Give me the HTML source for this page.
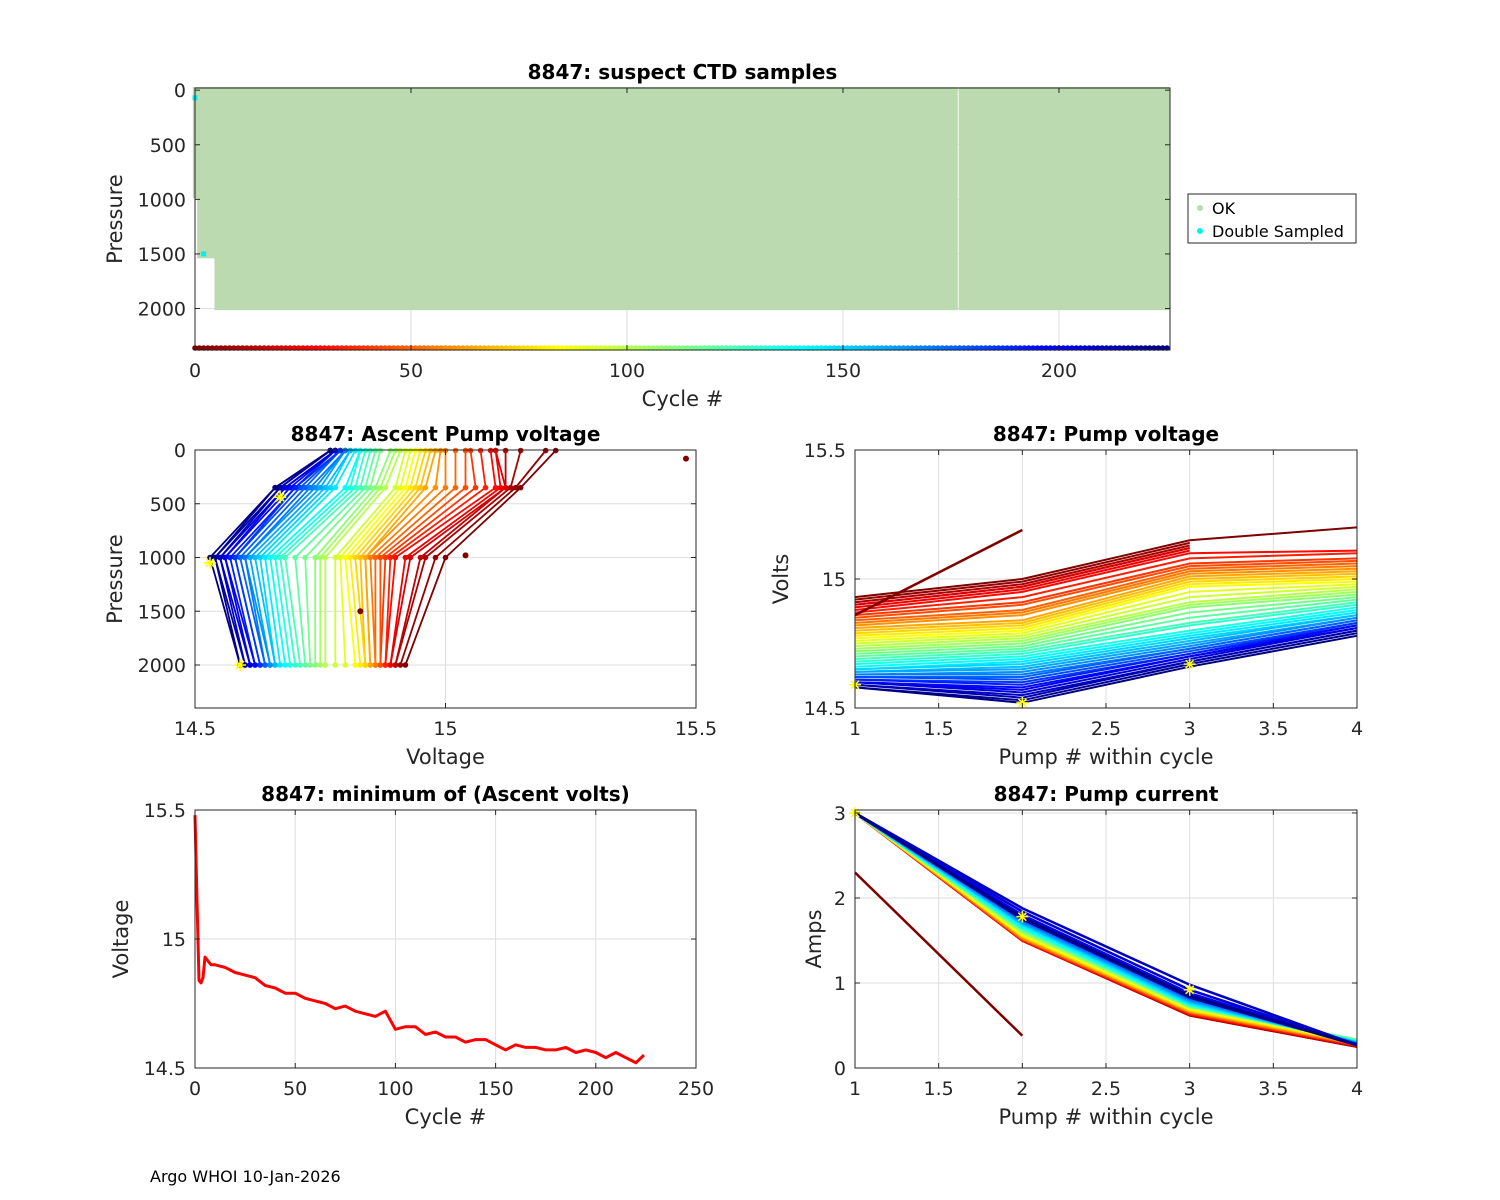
<!DOCTYPE html>
<html><head><meta charset="utf-8"><title>8847 pump diagnostics</title>
<style>
html,body{margin:0;padding:0;background:#fff;}
svg{display:block;font-family:"DejaVu Sans","Liberation Sans",sans-serif;}
</style></head>
<body>
<svg id="fig" width="1500" height="1200" viewBox="0 0 1500 1200" xmlns="http://www.w3.org/2000/svg">
<rect width="1500" height="1200" fill="#fff"/>
<text x="150" y="1182" font-size="16" fill="#000">Argo WHOI 10-Jan-2026</text>
<g>
<rect x="1188" y="194" width="168" height="49" fill="#fff" stroke="#262626" stroke-width="1"/>
<circle cx="1200" cy="208" r="3" fill="#bcdab0"/>
<text x="1212" y="214" font-size="16" fill="#000">OK</text>
<circle cx="1200" cy="231" r="3" fill="#00f0f0"/>
<text x="1212" y="237" font-size="16" fill="#000">Double Sampled</text>
</g>
</svg>
<script>
// ---------- data ----------
// top panel: profile depth segments
const segStart = [0, 1, 5, 177];
const segEnd = [0, 4, 176, 225];
const segMaxP = [990, 1540, 2015, 2015];
const missingAfter = [176];
const dblCycle = [0, 2];
const dblPres = [70, 1500];
const lastCycle = 225;

// ascent pump voltage profiles (grouped cycles)
const grpCycles = [0,5,10,15,20,25,30,35,40,45,50,55,60,65,70,75,80,85,90,95,100,105,110,115,120,125,130,135,140,145,150,155,160,165,170,175,180,185,190,195,200,205,210,215,220,225];
const profPres = [5, 350, 1000, 2000];
const vTop = [15.22,15.20,15.15,15.12,15.10,15.10, 15.09,15.07,15.05,15.04,15.02,15.00,14.99,14.98,14.97,14.96,14.95, 14.94,14.93,14.92,14.91,14.90,14.89, 14.87,14.86,14.85,14.84,14.83,14.83, 14.82,14.81,14.81,14.80,14.80,14.80,14.79,14.79,14.79,14.78,14.78,14.78,14.78,14.77,14.77,14.77,14.77];
const v350 = [15.15,15.14,15.13,15.12,15.12,15.11, 15.10,15.08,15.06,15.04,15.02,15.00,14.98,14.96,14.95,14.94,14.93, 14.92,14.91,14.90,14.88,14.87,14.86, 14.85,14.84,14.83,14.82,14.81,14.80, 14.78,14.77,14.76,14.75,14.74,14.73,14.72,14.71,14.70,14.70,14.69,14.68,14.68,14.67,14.67,14.66,14.66];
const v1000 = [15.00,14.98,14.96,14.95,14.93,14.92, 14.90,14.89,14.88,14.87,14.86,14.85,14.84,14.84,14.83,14.82,14.81, 14.80,14.79,14.78,14.76,14.75,14.74, 14.72,14.70,14.68,14.67,14.66,14.65, 14.64,14.63,14.62,14.61,14.60,14.60,14.59,14.58,14.58,14.57,14.56,14.56,14.55,14.55,14.54,14.54,14.53];
const v2000 = [14.92,14.91,14.90,14.90,14.89,14.89, 14.88,14.88,14.87,14.87,14.86,14.86,14.85,14.85,14.84,14.84,14.83, 14.82,14.80,14.78,14.76,14.75,14.74, 14.73,14.72,14.71,14.70,14.69,14.68, 14.67,14.66,14.66,14.65,14.65,14.64,14.64,14.63,14.63,14.62,14.62,14.61,14.61,14.60,14.60,14.59,14.59];
const outV = [15.48, 15.04, 14.83];
const outP = [80, 980, 1500];

// pump voltage per pump #
const pumpNum = [1,2,3,4];
const pv1 = [14.93,14.92,14.91,14.90,14.90,14.89, 14.88,14.87,14.86,14.85,14.84,14.83,14.82,14.81,14.80,14.79,14.78, 14.77,14.76,14.75,14.74,14.73,14.72, 14.71,14.70,14.69,14.68,14.67,14.66, 14.65,14.65,14.64,14.64,14.63,14.63,14.62,14.62,14.61,14.61,14.60,14.60,14.60,14.59,14.59,14.58,14.58];
const pv2 = [15.00,14.99,14.98,14.97,14.97,14.96, 14.95,14.93,14.91,14.90,14.88,14.87,14.86,14.84,14.83,14.82,14.81, 14.80,14.79,14.78,14.77,14.76,14.75, 14.74,14.73,14.72,14.71,14.70,14.69, 14.68,14.67,14.66,14.65,14.64,14.63,14.62,14.61,14.60,14.59,14.58,14.57,14.56,14.55,14.54,14.53,14.52];
const pv3 = [15.15,15.14,15.13,15.12,15.12,15.11, 15.10,15.08,15.06,15.05,15.04,15.03,15.02,15.01,15.00,14.99,14.98, 14.97,14.95,14.93,14.91,14.90,14.89, 14.87,14.85,14.83,14.82,14.80,14.79, 14.78,14.77,14.76,14.75,14.74,14.73,14.73,14.72,14.71,14.71,14.70,14.70,14.69,14.68,14.68,14.67,14.66];
const pv4 = [15.20,null,null,null,null,null, 15.11,15.10,15.08,15.07,15.06,15.05,15.04,15.03,15.02,15.01,15.00, 14.99,14.98,14.97,14.96,14.95,14.94, 14.93,14.92,14.91,14.90,14.89,14.88, 14.87,14.86,14.86,14.85,14.85,14.84,14.84,14.83,14.83,14.82,14.82,14.81,14.81,14.80,14.80,14.79,14.78];
const pvOdd = [14.86, 15.19];

// pump current per pump #
const pc1 = [3.0,3.0,3.0,3.0,3.0,3.0,3.0,3.0,3.0,3.0,3.0,3.0,3.0,3.0,3.0,3.0,3.0,3.0,3.0,3.0,3.0,3.0,3.0,3.0,3.0,3.0,3.0,3.0,3.0,3.0,3.0,3.0,3.0,3.0,3.0,3.0,3.0,3.0,3.0,3.0,3.0,3.0,3.0,3.0,3.0,3.0];
const pc2 = [1.50,1.50,1.50,1.50,1.50,1.50, 1.50,1.51,1.51,1.52,1.52,1.53,1.53,1.54,1.55,1.55,1.56, 1.57,1.58,1.59,1.60,1.60,1.61, 1.62,1.63,1.64,1.65,1.65,1.66, 1.68,1.69,1.70,1.71,1.72,1.73,1.74,1.75,1.76,1.77,1.78,1.80,1.84,1.88,1.76,1.75,1.77];
const pc3 = [0.62,0.62,0.62,0.63,0.63,0.63, 0.64,0.64,0.65,0.65,0.66,0.66,0.67,0.67,0.68,0.68,0.69, 0.70,0.70,0.71,0.71,0.72,0.72, 0.73,0.73,0.74,0.74,0.75,0.75, 0.76,0.77,0.78,0.79,0.80,0.81,0.82,0.83,0.84,0.85,0.86,0.88,0.92,0.98,0.84,0.83,0.85];
const pc4 = [0.25,0.25,0.25,0.26,0.26,0.26, 0.27,0.27,0.27,0.28,0.28,0.28,0.29,0.29,0.30,0.30,0.31, 0.31,0.32,0.32,0.33,0.33,0.33, 0.33,0.32,0.32,0.31,0.31,0.31, 0.30,0.30,0.30,0.29,0.29,0.29,0.28,0.28,0.28,0.28,0.27,0.27,0.27,0.27,0.27,0.27,0.27];
const pcOdd = [2.30, 0.38];

// minimum ascent volts
const mvC = [0,1,2,3,4,5,8,10,15,20,25,30,35,40,45,50,55,60,65,70,75,80,85,90,95,100,105,110,115,120,125,130,135,140,145,150,155,160,165,170,175,180,185,190,195,200,205,210,215,220,224];
const mvV = [15.48,15.15,14.84,14.83,14.85,14.93,14.90,14.90,14.89,14.87,14.86,14.85,14.82,14.81,14.79,14.79,14.77,14.76,14.75,14.73,14.74,14.72,14.71,14.70,14.72,14.65,14.66,14.66,14.63,14.64,14.62,14.62,14.60,14.61,14.61,14.59,14.57,14.59,14.58,14.58,14.57,14.57,14.58,14.56,14.57,14.56,14.54,14.56,14.54,14.52,14.55];

// tick labels
const topXTicks = [0,50,100,150,200];
const topYTicks = [0,500,1000,1500,2000];
const mlXTicks = [14.5,15,15.5];
const mlYTicks = [0,500,1000,1500,2000];
const pumpTicks = [1,1.5,2,2.5,3,3.5,4];
const voltTicks = [14.5,15,15.5];
const cycTicks = [0,50,100,150,200,250];
const ampTicks = [0,1,2,3];

// ---------- drawing ----------
const NS = "http://www.w3.org/2000/svg";
const svg = document.getElementById('fig');
function mk(tag, attrs, parent) {
  const e = document.createElementNS(NS, tag);
  for (const k in attrs) e.setAttribute(k, attrs[k]);
  (parent || svg).appendChild(e);
  return e;
}
function jet(c) {
  const t = 1 - c / lastCycle;
  const cl = v => Math.max(0, Math.min(1, v));
  const r = cl(1.5 - Math.abs(4 * t - 3)), g = cl(1.5 - Math.abs(4 * t - 2)), b = cl(1.5 - Math.abs(4 * t - 1));
  return `rgb(${Math.round(r*255)},${Math.round(g*255)},${Math.round(b*255)})`;
}
function axis(p) {
  p.sx = v => p.x0 + (v - p.xmin) / (p.xmax - p.xmin) * (p.x1 - p.x0);
  p.sy = v => p.y1 - (v - p.ymin) / (p.ymax - p.ymin) * (p.y1 - p.y0);
  if (p.rev) p.sy = v => p.y0 + (v - p.ymin) / (p.ymax - p.ymin) * (p.y1 - p.y0);
  const g = mk('g', {});
  
  
  p.g = g;
  p.grid = mk('g', {}, g);
  
  
  p.marks = mk('g', {}, g);
  
  
  p.frame = mk('g', {}, g);
  
  
  return p;
}
function finish(p) {
  const f = p.frame;
  p.xt.forEach(v => {
    const x = p.sx(v);
    const gl = mk('line', {x1:x, x2:x, y1:p.y0, y2:p.y1, stroke:'#dedede', 'stroke-width':1}, p.grid);
    
    
    const tk = mk('line', {x1:x, x2:x, y1:p.y1, y2:p.y1-5, stroke:'#262626'}, f);
    
    
    const tk2 = mk('line', {x1:x, x2:x, y1:p.y0, y2:p.y0+5, stroke:'#262626'}, f);
    
    
    const t = mk('text', {x:x, y:p.y1+27, 'font-size':19, 'text-anchor':'middle', fill:'#262626'}, f);
    t.textContent = String(v);
    
    
  });
  p.yt.forEach(v => {
    const y = p.sy(v);
    const gl = mk('line', {x1:p.x0, x2:p.x1, y1:y, y2:y, stroke:'#dedede', 'stroke-width':1}, p.grid);
    
    
    const tk = mk('line', {x1:p.x0, x2:p.x0+5, y1:y, y2:y, stroke:'#262626'}, f);
    
    
    const tk2 = mk('line', {x1:p.x1, x2:p.x1-5, y1:y, y2:y, stroke:'#262626'}, f);
    
    
    const t = mk('text', {x:p.x0-9, y:y+7, 'font-size':19, 'text-anchor':'end', fill:'#262626'}, f);
    t.textContent = String(v);
    
    
  });
  const box = mk('rect', {x:p.x0, y:p.y0, width:p.x1-p.x0, height:p.y1-p.y0, fill:'none', stroke:'#262626', 'stroke-width':1}, f);
  
  
  const ti = mk('text', {x:(p.x0+p.x1)/2, y:p.y0-9, 'font-size':20, 'font-weight':'bold', 'text-anchor':'middle', fill:'#000'}, f);
  ti.textContent = p.title;
  
  
  const xl = mk('text', {x:(p.x0+p.x1)/2, y:p.y1+56, 'font-size':21, 'text-anchor':'middle', fill:'#262626'}, f);
  xl.textContent = p.xlabel;
  
  
  const yl = mk('text', {x:0, y:0, 'font-size':21, 'text-anchor':'middle', fill:'#262626', transform:`translate(${p.ylx},${(p.y0+p.y1)/2}) rotate(-90)`}, f);
  yl.textContent = p.ylabel;
  
  
}
function star(p, x, y) {
  const X = p.sx(x), Y = p.sy(y), r = 6;
  const s = mk('path', {d:`M${X-r},${Y}H${X+r}M${X},${Y-r}V${Y+r}M${X-4},${Y-4}L${X+4},${Y+4}M${X-4},${Y+4}L${X+4},${Y-4}`, stroke:'#ffff00', 'stroke-width':1.5, fill:'none'}, p.marks);
  
  
}
function linePts(p, xs, ys) {
  const out = [];
  xs.forEach((x, k) => { if (ys[k] !== null) out.push(p.sx(x).toFixed(1) + ',' + p.sy(ys[k]).toFixed(1)); });
  return out.join(' ');
}

// ---- top panel ----
const A = axis({name:'suspect-ctd-panel', x0:195, x1:1170, y0:88, y1:350, xmin:0, xmax:225.7, ymin:-20, ymax:2380, rev:true,
  xt:topXTicks, yt:topYTicks, title:'8847: suspect CTD samples', xlabel:'Cycle #', ylabel:'Pressure', ylx:122});
segStart.forEach((s, i) => {
  const xa = Math.max(A.sx(s - 0.5), 192) + (missingAfter.indexOf(s - 1) >= 0 ? 1.2 : 0);
  const xb = A.sx(segEnd[i] + 0.5) + 0.3;
  const r = mk('rect', {x:xa, y:87, width:xb - xa, height:A.sy(segMaxP[i]) - 87, fill:'#bcdab0'}, A.marks);
  
  
});
for (let c = 0; c <= lastCycle; c++) {
  const d = mk('circle', {cx:A.sx(c), cy:348, r:2.8, fill:jet(c)}, A.marks);
  
  
}
dblCycle.forEach((c, i) => {
  const d = mk('rect', {x:A.sx(c)-2.5, y:A.sy(dblPres[i])-2.5, width:5, height:5, fill:'#00f0f0'}, A.marks);
  
  
});
finish(A);

// ---- ascent pump voltage ----
const B = axis({name:'ascent-pump-voltage-panel', x0:195, x1:696, y0:450, y1:708, xmin:14.5, xmax:15.5, ymin:0, ymax:2400, rev:true,
  xt:mlXTicks, yt:mlYTicks, title:'8847: Ascent Pump voltage', xlabel:'Voltage', ylabel:'Pressure', ylx:122});
grpCycles.forEach((c, i) => {
  const vs = [vTop[i], v350[i], v1000[i], v2000[i]];
  const pts = vs.map((v, k) => B.sx(v).toFixed(1) + ',' + B.sy(profPres[k]).toFixed(1)).join(' ');
  const l = mk('polyline', {points:pts, fill:'none', stroke:jet(c), 'stroke-width':1.8}, B.marks);
  
  
  vs.forEach((v, k) => {
    const d = mk('circle', {cx:B.sx(v), cy:B.sy(profPres[k]), r:2.8, fill:jet(c)}, B.marks);
    
    
  });
});
outV.forEach((v, i) => {
  const d = mk('circle', {cx:B.sx(v), cy:B.sy(outP[i]), r:3, fill:'#800000'}, B.marks);
  
  
});
star(B, 14.67, 440); star(B, 14.53, 1050); star(B, 14.59, 2000);
finish(B);

// ---- pump voltage ----
const C = axis({name:'pump-voltage-panel', x0:855, x1:1357, y0:450, y1:708, xmin:1, xmax:4, ymin:14.5, ymax:15.5,
  xt:pumpTicks, yt:voltTicks, title:'8847: Pump voltage', xlabel:'Pump # within cycle', ylabel:'Volts', ylx:788});
grpCycles.forEach((c, i) => {
  const l = mk('polyline', {points:linePts(C, pumpNum, [pv1[i], pv2[i], pv3[i], pv4[i]]), fill:'none', stroke:jet(c), 'stroke-width':2}, C.marks);
  
  
});
const cOdd = mk('polyline', {points:linePts(C, [1, 2], pvOdd), fill:'none', stroke:'#800000', 'stroke-width':2.5}, C.marks);


star(C, 1, 14.59); star(C, 2, 14.52); star(C, 3, 14.67);
finish(C);

// ---- minimum ascent volts ----
const D = axis({name:'min-ascent-volts-panel', x0:195, x1:696, y0:810, y1:1068, xmin:0, xmax:250, ymin:14.5, ymax:15.5,
  xt:cycTicks, yt:voltTicks, title:'8847: minimum of (Ascent volts)', xlabel:'Cycle #', ylabel:'Voltage', ylx:128});
const mvLine = mk('polyline', {points:linePts(D, mvC, mvV), fill:'none', stroke:'#ff0000', 'stroke-width':3, 'stroke-linejoin':'round'}, D.marks);


finish(D);

// ---- pump current ----
const E = axis({name:'pump-current-panel', x0:855, x1:1357, y0:810, y1:1068, xmin:1, xmax:4, ymin:0, ymax:3.035,
  xt:pumpTicks, yt:ampTicks, title:'8847: Pump current', xlabel:'Pump # within cycle', ylabel:'Amps', ylx:821});
grpCycles.forEach((c, i) => {
  const l = mk('polyline', {points:linePts(E, pumpNum, [pc1[i], pc2[i], pc3[i], pc4[i]]), fill:'none', stroke:jet(c), 'stroke-width':2.5}, E.marks);
  
  
});
const eOdd = mk('polyline', {points:linePts(E, [1, 2], pcOdd), fill:'none', stroke:'#800000', 'stroke-width':2.5}, E.marks);


star(E, 1, 3.0); star(E, 2, 1.78); star(E, 3, 0.92);
finish(E);
</script>
</body></html>
